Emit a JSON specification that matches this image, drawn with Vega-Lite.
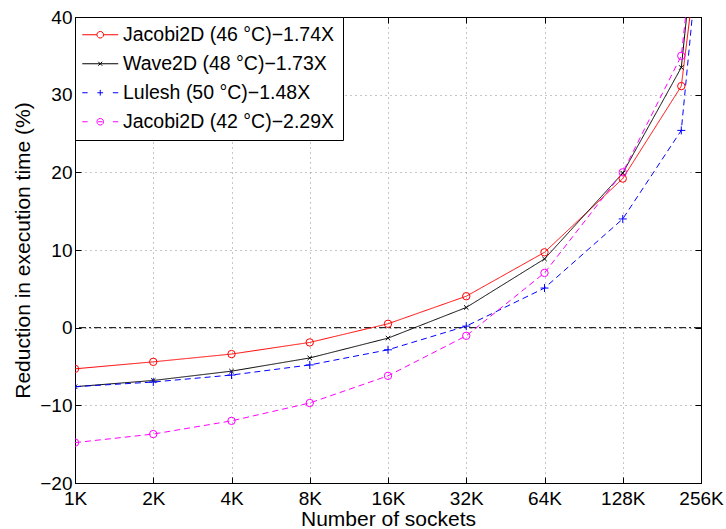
{
  "$schema": "https://vega.github.io/schema/vega-lite/v6.json",
  "autosize": {"type": "none"},
  "width": 626,
  "height": 466,
  "padding": {"left": 75, "top": 17, "right": 25, "bottom": 46},
  "background": "white",
  "config": {
    "view": {"stroke": "black", "strokeWidth": 1},
    "font": "Liberation Sans",
    "axis": {
      "labelFont": "Liberation Sans",
      "labelFontSize": 19,
      "labelColor": "black",
      "titleFont": "Liberation Sans",
      "titleFontSize": 21,
      "titleFontWeight": "normal",
      "titleColor": "black",
      "domainColor": "black",
      "domainWidth": 1,
      "tickColor": "black",
      "tickWidth": 1,
      "tickSize": -6,
      "gridColor": "#8c8c8c",
      "gridDash": [1, 4],
      "gridWidth": 1,
      "gridOpacity": 1
    },
    "legend": {
      "orient": "top-left",
      "offset": 0,
      "padding": 8,
      "rowPadding": 8,
      "symbolSize": 324,
      "symbolOffset": 7.5,
      "symbolStrokeWidth": 1,
      "symbolFillColor": "transparent",
      "symbolOpacity": 1,
      "labelOffset": 13,
      "labelFont": "Liberation Sans",
      "labelFontSize": 19.5,
      "labelColor": "black",
      "labelLimit": 400,
      "strokeColor": "black",
      "fillColor": "white"
    }
  },
  "data": {
    "values": [
      {"n": 1, "r": -5.3, "s": "Jacobi2D (46 °C)−1.74X"},
      {"n": 2, "r": -4.4, "s": "Jacobi2D (46 °C)−1.74X"},
      {"n": 4, "r": -3.4, "s": "Jacobi2D (46 °C)−1.74X"},
      {"n": 8, "r": -1.9, "s": "Jacobi2D (46 °C)−1.74X"},
      {"n": 16, "r": 0.5, "s": "Jacobi2D (46 °C)−1.74X"},
      {"n": 32, "r": 4.05, "s": "Jacobi2D (46 °C)−1.74X"},
      {"n": 64, "r": 9.7, "s": "Jacobi2D (46 °C)−1.74X"},
      {"n": 128, "r": 19.2, "s": "Jacobi2D (46 °C)−1.74X"},
      {"n": 215, "r": 31.1, "s": "Jacobi2D (46 °C)−1.74X"},
      {"n": 256, "r": 51.6, "s": "Jacobi2D (46 °C)−1.74X"},
      {"n": 1, "r": -7.6, "s": "Wave2D (48 °C)−1.73X"},
      {"n": 2, "r": -6.8, "s": "Wave2D (48 °C)−1.73X"},
      {"n": 4, "r": -5.6, "s": "Wave2D (48 °C)−1.73X"},
      {"n": 8, "r": -3.9, "s": "Wave2D (48 °C)−1.73X"},
      {"n": 16, "r": -1.35, "s": "Wave2D (48 °C)−1.73X"},
      {"n": 32, "r": 2.6, "s": "Wave2D (48 °C)−1.73X"},
      {"n": 64, "r": 8.85, "s": "Wave2D (48 °C)−1.73X"},
      {"n": 128, "r": 19.9, "s": "Wave2D (48 °C)−1.73X"},
      {"n": 215, "r": 33.5, "s": "Wave2D (48 °C)−1.73X"},
      {"n": 256, "r": 57.8, "s": "Wave2D (48 °C)−1.73X"},
      {"n": 1, "r": -7.6, "s": "Lulesh (50 °C)−1.48X"},
      {"n": 2, "r": -7.0, "s": "Lulesh (50 °C)−1.48X"},
      {"n": 4, "r": -6.1, "s": "Lulesh (50 °C)−1.48X"},
      {"n": 8, "r": -4.8, "s": "Lulesh (50 °C)−1.48X"},
      {"n": 16, "r": -2.85, "s": "Lulesh (50 °C)−1.48X"},
      {"n": 32, "r": 0.2, "s": "Lulesh (50 °C)−1.48X"},
      {"n": 64, "r": 5.1, "s": "Lulesh (50 °C)−1.48X"},
      {"n": 128, "r": 14.0, "s": "Lulesh (50 °C)−1.48X"},
      {"n": 215, "r": 25.4, "s": "Lulesh (50 °C)−1.48X"},
      {"n": 256, "r": 51.7, "s": "Lulesh (50 °C)−1.48X"},
      {"n": 1, "r": -14.8, "s": "Jacobi2D (42 °C)−2.29X"},
      {"n": 2, "r": -13.7, "s": "Jacobi2D (42 °C)−2.29X"},
      {"n": 4, "r": -12.0, "s": "Jacobi2D (42 °C)−2.29X"},
      {"n": 8, "r": -9.7, "s": "Jacobi2D (42 °C)−2.29X"},
      {"n": 16, "r": -6.2, "s": "Jacobi2D (42 °C)−2.29X"},
      {"n": 32, "r": -1.05, "s": "Jacobi2D (42 °C)−2.29X"},
      {"n": 64, "r": 7.05, "s": "Jacobi2D (42 °C)−2.29X"},
      {"n": 128, "r": 20.0, "s": "Jacobi2D (42 °C)−2.29X"},
      {"n": 215, "r": 35.0, "s": "Jacobi2D (42 °C)−2.29X"},
      {"n": 256, "r": 58.0, "s": "Jacobi2D (42 °C)−2.29X"}
    ]
  },
  "resolve": {"axis": {"x": "independent", "y": "independent"}},
  "layer": [
    {
      "data": {"values": [{}]},
      "mark": {"type": "rule", "color": "black", "strokeWidth": 1, "strokeDash": [7, 3, 2, 3]},
      "encoding": {
        "y": {"datum": 0, "type": "quantitative", "axis": null}
      }
    },
    {
      "mark": {"type": "line", "strokeWidth": 1, "clip": true},
      "encoding": {
        "x": {
          "field": "n", "type": "quantitative",
          "scale": {"type": "log", "base": 2, "domain": [1, 256], "nice": false},
          "axis": {
            "orient": "bottom",
            "values": [1, 2, 4, 8, 16, 32, 64, 128, 256],
            "labelExpr": "datum.value + 'K'",
            "title": "Number of sockets",
            "grid": true,
            "labelPadding": 12,
            "titlePadding": 0,
            "labelFlush": false
          }
        },
        "y": {
          "field": "r", "type": "quantitative",
          "scale": {"domain": [-20, 40], "nice": false},
          "axis": {
            "orient": "left",
            "values": [-20, -10, 0, 10, 20, 30, 40],
            "title": "Reduction in execution time (%)",
            "grid": true,
            "labelPadding": 9,
            "titlePadding": 6,
            "labelFlush": false
          }
        },
        "color": {
          "field": "s", "type": "nominal",
          "legend": {"title": null, "labelExpr": "datum.label + '\u2003'"},
          "scale": {
            "domain": ["Jacobi2D (46 °C)−1.74X", "Wave2D (48 °C)−1.73X", "Lulesh (50 °C)−1.48X", "Jacobi2D (42 °C)−2.29X"],
            "range": ["#ff0000", "#000000", "#0000ff", "#ff00ff"]
          }
        },
        "strokeDash": {
          "field": "s", "type": "nominal", "legend": null,
          "scale": {
            "domain": ["Lulesh (50 °C)−1.48X", "Jacobi2D (42 °C)−2.29X", "Jacobi2D (46 °C)−1.74X", "Wave2D (48 °C)−1.73X"],
            "range": [[6, 4], [6, 4], [1, 0], [1, 0]]
          }
        },
        "order": {"field": "n", "type": "quantitative"}
      }
    },
    {
      "transform": [{"filter": "datum.s == 'Jacobi2D (46 °C)−1.74X' || datum.s == 'Jacobi2D (42 °C)−2.29X'"}],
      "mark": {"type": "point", "shape": "circle", "filled": false, "size": 55, "strokeWidth": 1, "opacity": 1, "clip": true},
      "encoding": {
        "x": {"field": "n", "type": "quantitative", "axis": null},
        "y": {"field": "r", "type": "quantitative", "axis": null},
        "color": {"field": "s", "type": "nominal", "legend": {"title": null, "labelExpr": "datum.label + '\u2003'"}}
      }
    },
    {
      "transform": [{"filter": "datum.s == 'Wave2D (48 °C)−1.73X'"}],
      "mark": {"type": "point", "shape": "M-1,-1L1,1M-1,1L1,-1", "filled": false, "size": 20, "strokeWidth": 1, "opacity": 1, "clip": true},
      "encoding": {
        "x": {"field": "n", "type": "quantitative", "axis": null},
        "y": {"field": "r", "type": "quantitative", "axis": null},
        "color": {"field": "s", "type": "nominal", "legend": {"title": null, "labelExpr": "datum.label + '\u2003'"}}
      }
    },
    {
      "transform": [{"filter": "datum.s == 'Lulesh (50 °C)−1.48X'"}],
      "mark": {"type": "point", "shape": "M-1,0H1M0,-1V1", "filled": false, "size": 64, "strokeWidth": 1, "opacity": 1, "clip": true},
      "encoding": {
        "x": {"field": "n", "type": "quantitative", "axis": null},
        "y": {"field": "r", "type": "quantitative", "axis": null},
        "color": {"field": "s", "type": "nominal", "legend": {"title": null, "labelExpr": "datum.label + '\u2003'"}}
      }
    },
    {
      "transform": [{"filter": "datum.n == 256"}],
      "mark": {"type": "point", "filled": false, "size": 324, "strokeWidth": 1, "opacity": 1, "clip": true},
      "encoding": {
        "x": {
          "field": "n", "type": "quantitative",
          "axis": {"orient": "top", "values": [1, 2, 4, 8, 16, 32, 64, 128, 256], "labels": false, "grid": false, "title": null}
        },
        "y": {
          "field": "r", "type": "quantitative",
          "axis": {"orient": "right", "values": [-20, -10, 0, 10, 20, 30, 40], "labels": false, "grid": false, "title": null}
        },
        "color": {"field": "s", "type": "nominal", "legend": {"title": null, "labelExpr": "datum.label + '\u2003'"}},
        "shape": {
          "field": "s", "type": "nominal",
          "legend": {"title": null, "labelExpr": "datum.label + '\u2003'"},
          "scale": {
            "domain": ["Jacobi2D (46 °C)−1.74X", "Wave2D (48 °C)−1.73X", "Lulesh (50 °C)−1.48X", "Jacobi2D (42 °C)−2.29X"],
            "range": [
              "M-2,0H-0.37M0.37,0H2M0.37,0L0.32,0.185L0.185,0.32L0,0.37L-0.185,0.32L-0.32,0.185L-0.37,0L-0.32,-0.185L-0.185,-0.32L0,-0.37L0.185,-0.32L0.32,-0.185Z",
              "M-2,0H2M-0.22,-0.22L0.22,0.22M-0.22,0.22L0.22,-0.22",
              "M-2,0H-1.4M1.4,0H2M-0.32,0H0.32M0,-0.32V0.32",
              "M-2,0H-1.4M1.4,0H2M-0.25,0H0.25M0.37,0L0.32,0.185L0.185,0.32L0,0.37L-0.185,0.32L-0.32,0.185L-0.37,0L-0.32,-0.185L-0.185,-0.32L0,-0.37L0.185,-0.32L0.32,-0.185Z"
            ]
          }
        }
      }
    }
  ]
}
